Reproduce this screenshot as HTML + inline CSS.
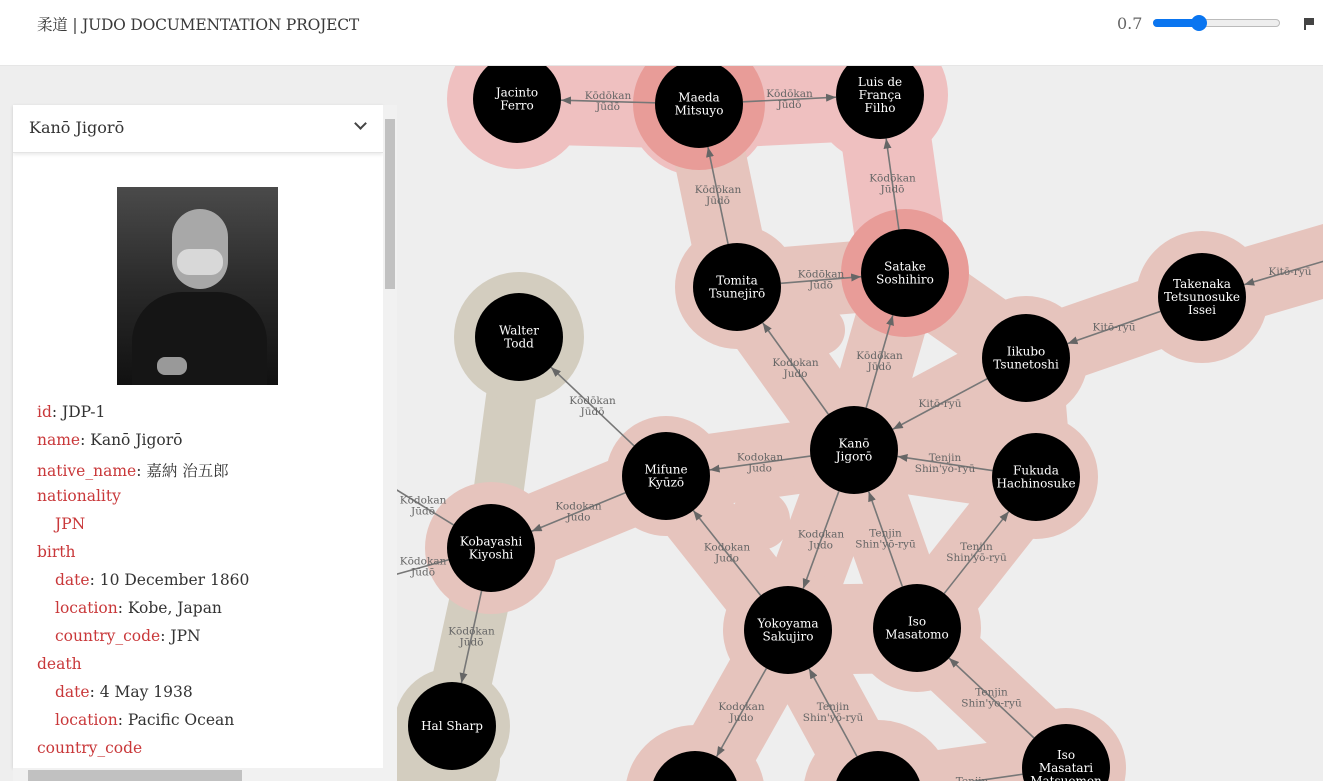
<!DOCTYPE html>
<html><head><meta charset="utf-8"><style>
*{margin:0;padding:0;box-sizing:border-box}
html,body{width:1323px;height:781px;overflow:hidden}
body{background:#eee;font-family:"Liberation Serif","Noto Serif CJK SC",serif;position:relative}
#top{position:absolute;left:0;top:0;width:1323px;height:66px;background:#fff;border-bottom:1px solid #e6e6e6}
#title{position:absolute;left:37px;top:13px;font-size:15.5px;color:#3a3a3a;font-family:"DejaVu Serif","Noto Serif CJK SC",serif;letter-spacing:-0.2px}
#val{position:absolute;left:1117px;top:14px;font-size:16px;color:#666;font-family:"DejaVu Serif",serif}
#trk{position:absolute;left:1153px;top:19px;width:127px;height:8px;border-radius:4px;background:#eee;border:1px solid #bbb}
#fill{position:absolute;left:1153px;top:19px;width:46px;height:8px;border-radius:4px;background:#0a75f0}
#knob{position:absolute;left:1191px;top:15px;width:16px;height:16px;border-radius:8px;background:#0a75f0}
svg{position:absolute;left:0;top:0}
#panel{position:absolute;left:13px;top:105px;width:370px;height:663px;background:#fff;box-shadow:0 1px 3px rgba(0,0,0,.15);overflow:hidden}
#ph{height:48px;border-bottom:1px solid #e4e4e4;box-shadow:0 2px 3px rgba(0,0,0,.08);font-family:"DejaVu Serif",serif;font-size:16px;color:#333;padding:13px 0 0 16px}
#chev{position:absolute;right:18px;top:14px;width:9px;height:9px;border-right:2px solid #444;border-bottom:2px solid #444;transform:rotate(45deg)}
#photo{position:absolute;left:104px;top:82px;width:161px;height:198px;background:linear-gradient(#4a4a4a,#2a2a2a 50%,#111);overflow:hidden}
.l{position:absolute;left:24px;font-family:"DejaVu Serif","Noto Serif CJK SC",serif;font-size:15.5px;color:#333}
.l b{font-weight:normal;color:#c9383a}
.i{left:42px}
#vs{position:absolute;left:383px;top:105px;width:14px;height:663px;background:#f1f1f1}
#vt{position:absolute;left:385px;top:119px;width:10px;height:170px;background:#c1c1c1}
#hs{position:absolute;left:13px;top:768px;width:384px;height:13px;background:#f1f1f1}
#ht{position:absolute;left:28px;top:770px;width:214px;height:11px;background:#c1c1c1}
</style></head><body>
<svg id="g" width="1323" height="781" viewBox="0 0 1323 781"></svg>
<div id="top"><div id="title">柔道 | JUDO DOCUMENTATION PROJECT</div><div id="val">0.7</div><div id="trk"></div><div id="fill"></div><div id="knob"></div>
<div style="position:absolute;left:1304px;top:18px;width:2px;height:12px;background:#444"></div><div style="position:absolute;left:1306px;top:18px;width:8px;height:7px;background:#444"></div></div>
<div id="panel"><div id="ph">Kanō Jigorō</div><div id="chev"></div>
<div id="photo"><div style="position:absolute;left:15px;top:105px;width:135px;height:100px;border-radius:50px 50px 0 0;background:#151515"></div><div style="position:absolute;left:55px;top:22px;width:56px;height:80px;border-radius:28px;background:#a8a8a8"></div><div style="position:absolute;left:60px;top:62px;width:46px;height:26px;border-radius:12px;background:#d8d8d8"></div><div style="position:absolute;left:40px;top:170px;width:30px;height:18px;border-radius:8px;background:#999"></div></div>
<div class="l" style="top:298px"><b>id</b>: JDP-1</div>
<div class="l" style="top:326px"><b>name</b>: Kanō Jigorō</div>
<div class="l" style="top:354px"><b>native_name</b>: 嘉納 治五郎</div>
<div class="l" style="top:382px"><b>nationality</b></div>
<div class="l i" style="top:410px"><b>JPN</b></div>
<div class="l" style="top:438px"><b>birth</b></div>
<div class="l i" style="top:466px"><b>date</b>: 10 December 1860</div>
<div class="l i" style="top:494px"><b>location</b>: Kobe, Japan</div>
<div class="l i" style="top:522px"><b>country_code</b>: JPN</div>
<div class="l" style="top:550px"><b>death</b></div>
<div class="l i" style="top:578px"><b>date</b>: 4 May 1938</div>
<div class="l i" style="top:606px"><b>location</b>: Pacific Ocean</div>
<div class="l" style="top:634px"><b>country_code</b></div>
</div>
<div id="vs"></div><div id="vt"></div><div id="hs"></div><div id="ht"></div>
<script>
var N={J:[517,99,"Jacinto|Ferro"],M:[699,104,"Maeda|Mitsuyo"],L:[880,95,"Luis de|França|Filho"],T:[737,287,"Tomita|Tsunejirō"],S:[905,273,"Satake|Soshihiro"],W:[519,337,"Walter|Todd"],K:[1202,297,"Takenaka|Tetsunosuke|Issei"],I:[1026,358,"Iikubo|Tsunetoshi"],G:[854,450,"Kanō|Jigorō"],F:[666,476,"Mifune|Kyūzō"],H:[1036,477,"Fukuda|Hachinosuke"],B:[491,548,"Kobayashi|Kiyoshi"],Y:[788,630,"Yokoyama|Sakujiro"],O:[917,628,"Iso|Masatomo"],P:[452,726,"Hal Sharp"],Q:[1066,768,"Iso|Masatari|Matsuemon"],X:[695,795,"x"],Z:[878,795,"x"],R:[1345,255,""],U:[340,455,""],V:[340,590,""]};
var E=[["M","J","Kōdōkan|Jūdō"],["M","L","Kōdōkan|Jūdō"],["T","M","Kōdōkan|Jūdō"],["S","L","Kōdōkan|Jūdō"],["T","S","Kōdōkan|Jūdō"],["G","T","Kodokan|Judo"],["G","S","Kōdōkan|Jūdō"],["K","I","Kitō-ryū"],["R","K","Kitō-ryū"],["I","G","Kitō-ryū"],["H","G","Tenjin|Shin'yō-ryū"],["G","F","Kodokan|Judo"],["F","W","Kōdōkan|Jūdō"],["F","B","Kodokan|Judo"],["B","P","Kōdōkan|Jūdō"],["U","B","Kōdokan|Jūdō",1],["V","B","Kōdokan|Jūdō",1],["G","Y","Kodokan|Judo"],["Y","F","Kodokan|Judo"],["O","G","Tenjin|Shin'yō-ryū"],["O","H","Tenjin|Shin'yō-ryū"],["Y","X","Kodokan|Judo"],["Z","Y","Tenjin|Shin'yō-ryū"],["Q","O","Tenjin|Shin'yo-ryū"],["Q","Z","Tenjin",1]];
var s='<defs><marker id="a" markerWidth="10" markerHeight="8" refX="10" refY="4" orient="auto" markerUnits="userSpaceOnUse"><path d="M0,0L10,4L0,8z" fill="#666"/></marker></defs>';
var pink="#e6c4bd",lp="#efc0c0",bg="#d3cdbf";
function ln(a,b,w,c){s+='<line x1="'+N[a][0]+'" y1="'+N[a][1]+'" x2="'+N[b][0]+'" y2="'+N[b][1]+'" stroke="'+c+'" stroke-width="'+w+'" stroke-linecap="round"/>';}
function ci(x,y,r,c){s+='<circle cx="'+x+'" cy="'+y+'" r="'+r+'" fill="'+c+'"/>';}
ln("W","B",50,bg);ln("B","P",60,bg);ci(519,337,65,bg);ci(452,726,58,bg);ci(445,760,55,bg);
[["M","J"],["M","L"],["S","L"]].forEach(function(e){ln(e[0],e[1],90,lp)});
ci(517,99,70,lp);ci(880,95,68,lp);ci(699,104,72,lp);
[["T","M"],["T","S"],["G","T"],["G","S"],["K","I"],["R","K"],["I","G"],["H","G"],["G","F"],["F","B"],["G","Y"],["O","G"],["O","H"],["Y","X"],["Z","Y"],["Q","O"],["Q","Z"],["S","I"],["F","Y"],["I","H"]].forEach(function(e){ln(e[0],e[1],72,pink)});
ln("Y","O",90,pink);
[["G",66],["F",60],["B",66],["Y",65],["O",64],["H",62],["I",62],["K",66],["Q",60],["X",70],["Z",75],["T",62]].forEach(function(e){ci(N[e[0]][0],N[e[0]][1],e[1],pink)});
ci(760,520,30,pink);ci(975,420,35,pink);ci(820,330,25,pink);
ci(699,104,66,"#e89c98");ci(905,273,64,"#e89c98");
E.forEach(function(e){var a=N[e[0]],b=N[e[1]],dx=b[0]-a[0],dy=b[1]-a[1],d=Math.hypot(dx,dy),r=44;
var x1=a[0]+dx/d*(a[2]?r:0),y1=a[1]+dy/d*(a[2]?r:0),x2=b[0]-dx/d*r,y2=b[1]-dy/d*r;
s+='<line x1="'+x1+'" y1="'+y1+'" x2="'+x2+'" y2="'+y2+'" stroke="#777" stroke-width="1.6"'+(e[3]?'':' marker-end="url(#a)"')+'/>';
var mx=(a[0]+b[0])/2,my=(a[1]+b[1])/2;if(e[3]&&!a[2]){mx=a[0]+dx*0.55;my=a[1]+dy*0.55}
if(e[0]=="R"){mx=1290;my=272}
var t=e[2].split("|");t.forEach(function(w,i){s+='<text x="'+mx+'" y="'+(my+(i-(t.length-1)/2)*11+3)+'" font-size="10.5" fill="#666" text-anchor="middle" font-family="DejaVu Serif,serif">'+w+'</text>';});});
for(var k in N){var n=N[k];if(!n[2])continue;ci(n[0],n[1],44,"#000");if(n[2]=="x")continue;var t=n[2].split("|");t.forEach(function(w,i){s+='<text x="'+n[0]+'" y="'+(n[1]+(i-(t.length-1)/2)*13+4)+'" font-size="12" fill="#fff" text-anchor="middle" font-family="DejaVu Serif,serif">'+w+'</text>';});}
document.getElementById("g").innerHTML=s;
</script>
</body></html>
